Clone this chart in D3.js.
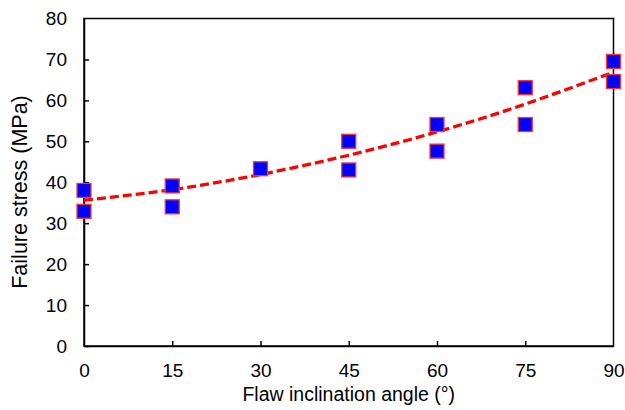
<!DOCTYPE html>
<html><head><meta charset="utf-8">
<script src="https://cdn.jsdelivr.net/npm/d3@7"></script>
<style>body{margin:0;background:#fff;} text{font-family:"Liberation Sans",Arial,sans-serif;}</style>
</head><body>
<svg id="c" width="625" height="410"></svg>
<script>
const angles = [0, 0, 15, 15, 30, 45, 45, 60, 60, 75, 75, 90, 90];
const stress = [38.0, 32.9, 39.1, 34.0, 43.3, 50.0, 43.0, 54.1, 47.6, 63.1, 54.1, 69.5, 64.6];
const trendX = [0, 15, 30, 45, 60, 75, 90];
const trendY = [35.6, 38.2, 41.9, 46.6, 52.3, 59.1, 66.9];
const xTicks = [0, 15, 30, 45, 60, 75, 90];
const yTicks = [0, 10, 20, 30, 40, 50, 60, 70, 80];

const svg = d3.select("#c");
const L = 84, R = 613.5, T = 18.5, B = 346;
const x = d3.scaleLinear().domain([0, 90]).range([L, R]);
const y = d3.scaleLinear().domain([0, 80]).range([B, T]);

// frame
svg.append("rect").attr("x", L).attr("y", T).attr("width", R - L).attr("height", B - T)
  .attr("fill", "none").attr("stroke", "#000").attr("stroke-width", 1.5);

// axes
const xa = svg.append("g").attr("transform", `translate(0,${B})`)
  .call(d3.axisBottom(x).tickValues(xTicks).tickSizeInner(-5).tickSizeOuter(0).tickPadding(12));
const ya = svg.append("g").attr("transform", `translate(${L},0)`)
  .call(d3.axisLeft(y).tickValues(yTicks).tickSizeInner(-5).tickSizeOuter(0).tickPadding(17));
[xa, ya].forEach(a => {
  a.select(".domain").attr("stroke", "#000").attr("stroke-width", 1.5);
  a.selectAll(".tick line").attr("stroke", "#000").attr("stroke-width", 1.5);
  a.selectAll(".tick text").attr("font-size", 19).attr("fill", "#000")
    .style("font-family", '"Liberation Sans",Arial,sans-serif');
});
xa.selectAll(".tick text").attr("y", 31).attr("dy", 0);
ya.selectAll(".tick").filter(d => d === 80).select("line").remove();
xa.selectAll(".tick").filter(d => d === 0 || d === 90).select("line").remove();

// trend line
const line = d3.line().x((d, i) => x(trendX[i])).y(d => y(d)).curve(d3.curveNatural);
svg.append("path").datum(trendY).attr("d", line).attr("fill", "none")
  .attr("stroke", "#ff0000").attr("stroke-width", 3.3).attr("stroke-dasharray", "9,4");

// points
const s = 14;
svg.selectAll("rect.pt").data(stress).enter().append("rect").attr("class", "pt")
  .attr("x", (d, i) => x(angles[i]) - s / 2).attr("y", d => y(d) - s / 2)
  .attr("width", s).attr("height", s)
  .attr("fill", "#0000ff").attr("stroke", "#ff3333").attr("stroke-width", 1.3);

// titles
svg.append("text").attr("x", (L + R) / 2).attr("y", 401).attr("text-anchor", "middle")
  .attr("font-size", 19.5).text("Flaw inclination angle (°)");
svg.append("text").attr("transform", `translate(26.5,192) rotate(-90)`)
  .attr("text-anchor", "middle").attr("font-size", 21.5).text("Failure stress (MPa)");
</script>
</body></html>
